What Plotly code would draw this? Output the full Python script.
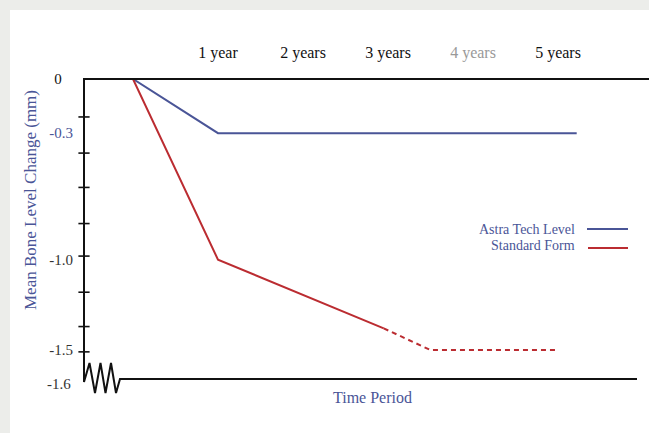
import plotly.graph_objects as go

# ---- data ----
year_labels = ["1 year", "2 years", "3 years", "4 years", "5 years"]
year_ticks = [1, 2, 3, 4, 5]

astra_x = [0, 1, 5.22]
astra_y = [0, -0.30, -0.30]

standard_solid_x = [0, 1, 2.95]
standard_solid_y = [0, -1.0, -1.38]
standard_dash_x = [2.95, 3.5, 5]
standard_dash_y = [-1.38, -1.5, -1.5]

y_label_vals = [0, -0.3, -1.0, -1.5]
y_label_text = ["0", "-0.3", "-1.0", "-1.5"]
minor_ticks = [-0.21, -0.41, -0.60, -0.80, -0.98, -1.18, -1.37, -1.51]

BLUE = "#4a5597"
RED = "#bb2c31"
FONT = "Liberation Serif"
BG = "#ecedea"

W, H = 649, 433
L, R, T, B = 84, 637, 79, 390
x0_px, px_per_year = 133, 85.0
px_per_unit = 180.7
x_range = [(L - x0_px) / px_per_year, (R - x0_px) / px_per_year]
y_range = [-(B - T) / px_per_unit, 0]


def xp(px):
    return (px - L) / (R - L)


def yp(py):
    return (B - py) / (B - T)


fig = go.Figure()

fig.add_trace(go.Scatter(x=astra_x, y=astra_y, mode="lines",
                         line=dict(color=BLUE, width=2), cliponaxis=False,
                         showlegend=False, hoverinfo="skip"))
fig.add_trace(go.Scatter(x=standard_solid_x, y=standard_solid_y, mode="lines",
                         line=dict(color=RED, width=2), cliponaxis=False,
                         showlegend=False, hoverinfo="skip"))
fig.add_trace(go.Scatter(x=standard_dash_x, y=standard_dash_y, mode="lines",
                         line=dict(color=RED, width=2, dash="5px,4px"),
                         cliponaxis=False, showlegend=False, hoverinfo="skip"))
# axis tick marks crossing the left axis
fig.add_trace(go.Scatter(x=[x_range[0]] * len(minor_ticks), y=minor_ticks,
                         mode="markers", cliponaxis=False,
                         marker=dict(symbol="line-ew", size=8,
                                     line=dict(color="#111", width=1.6)),
                         showlegend=False, hoverinfo="skip"))

shapes = []
# white panel
shapes.append(dict(type="rect", xref="paper", yref="paper", layer="below",
                   x0=xp(10), x1=xp(W + 5), y0=yp(H + 5), y1=yp(10),
                   fillcolor="white", line=dict(width=0)))
# top axis line
shapes.append(dict(type="line", xref="paper", yref="paper",
                   x0=xp(83), x1=xp(W), y0=yp(79), y1=yp(79),
                   line=dict(color="#111", width=2)))
# left axis + zigzag break + bottom axis
pts = [(84, 79), (84, 382), (89.5, 363), (95, 393), (100.5, 363), (105.5, 393),
       (111, 363), (116, 393), (120, 379), (637, 379)]
path = "M " + " L ".join(f"{xp(a):.5f},{yp(b):.5f}" for a, b in pts)
shapes.append(dict(type="path", xref="paper", yref="paper", path=path,
                   line=dict(color="#111", width=2)))
# legend lines
shapes.append(dict(type="line", xref="paper", yref="paper",
                   x0=xp(587), x1=xp(628), y0=yp(229), y1=yp(229),
                   line=dict(color=BLUE, width=1.8)))
shapes.append(dict(type="line", xref="paper", yref="paper",
                   x0=xp(588), x1=xp(628), y0=yp(248), y1=yp(248),
                   line=dict(color=RED, width=1.8)))

annotations = [
    dict(text="Astra Tech Level", xref="paper", yref="paper", x=xp(577), y=yp(229),
         xanchor="right", yanchor="middle", showarrow=False,
         font=dict(family=FONT, size=14, color=BLUE)),
    dict(text="Standard Form", xref="paper", yref="paper", x=xp(577), y=yp(245),
         xanchor="right", yanchor="middle", showarrow=False,
         font=dict(family=FONT, size=14, color=BLUE)),
    dict(text="Time Period", xref="paper", yref="paper", x=xp(372), y=yp(397),
         xanchor="center", yanchor="middle", showarrow=False,
         font=dict(family=FONT, size=16, color=BLUE)),
    dict(text="Mean Bone Level Change (mm)", xref="paper", yref="paper",
         x=xp(30), y=yp(200), textangle=-90, xanchor="center", yanchor="middle",
         showarrow=False, font=dict(family=FONT, size=17, color=BLUE)),
    dict(text="-1.6", xref="paper", yref="paper", x=xp(73), y=yp(384),
         xanchor="right", yanchor="middle", showarrow=False,
         font=dict(family=FONT, size=15, color="#333")),
]

tick_colors_x = ["#111", "#111", "#111", "#999", "#111"]
x_ticktext = [f"<span style='color:{c}'>{t}</span>" for t, c in zip(year_labels, tick_colors_x)]
y_colors = ["#111", BLUE, "#333", "#333"]
y_ticktext = []
for t, c in zip(y_label_text, y_colors):
    if t == "0":
        t = "0&nbsp;&nbsp;&nbsp;"
    y_ticktext.append(f"<span style='color:{c}'>{t}</span>")

fig.update_layout(
    width=W, height=H,
    margin=dict(l=L, r=W - R, t=T, b=H - B, pad=0),
    paper_bgcolor=BG, plot_bgcolor="rgba(0,0,0,0)",
    xaxis=dict(range=x_range, side="top", tickvals=year_ticks, ticktext=x_ticktext,
               showgrid=False, zeroline=False, showline=False, ticks="",
               ticklabelstandoff=17,
               tickfont=dict(family=FONT, size=16, color="#111")),
    yaxis=dict(range=y_range, tickvals=y_label_vals, ticktext=y_ticktext,
               showgrid=False, zeroline=False, showline=False, ticks="",
               ticklabelstandoff=10,
               tickfont=dict(family=FONT, size=15, color="#333")),
    shapes=shapes, annotations=annotations, showlegend=False,
)

fig.write_html(
    "out.html",
    config={"displayModeBar": False},
    post_script=(
        "document.body.style.margin='0px';"
        "document.body.style.overflow='hidden';"
        f"document.body.style.background='{BG}';"
    ),
)
